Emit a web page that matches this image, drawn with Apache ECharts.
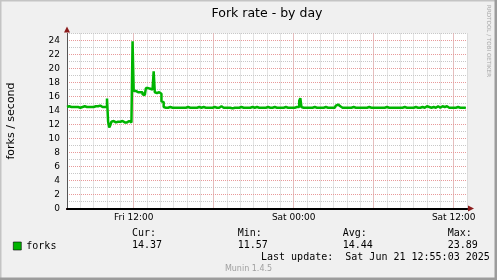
<!DOCTYPE html>
<html><head><meta charset="utf-8">
<script src="https://cdn.jsdelivr.net/npm/echarts@6/dist/echarts.min.js"></script>
<style>html,body{margin:0;padding:0;background:#f0f0f0}#c{width:497px;height:280px}</style>
</head><body><div id="c"></div>
<script>
const chartTitle = 'Fork rate - by day';
const yAxisName = 'forks / second';
const seriesName = 'forks';
const startDay = ['Fri', 'Sat'];
const startHour = 7;       // first sample: Fri 07:00
const sampleMinutes = 5;   // one value every 5 minutes
const slotCount = 361;     // Fri 07:00 .. Sat 13:00 inclusive
const xTickLabels = ['Fri 12:00', 'Sat 00:00', 'Sat 12:00'];
const yTickLabels = [0, 2, 4, 6, 8, 10, 12, 14, 16, 18, 20, 22, 24];
const statLabels = ['Cur:', 'Min:', 'Avg:', 'Max:'];
const statValues = ['14.37', '11.57', '14.44', '23.89'];
const lastUpdate = 'Last update:  Sat Jun 21 12:55:03 2025';
const footer = 'Munin 1.4.5';
const watermark = 'RRDTOOL / TOBI OETIKER';

// forks/second, one row per hour (Fri 07:00 ... Sat 12:55)
const forks = [
  14.5,14.5,14.6,14.5,14.5,14.4,14.5,14.5,14.5,14.4,14.5,14.5,
  14.4,14.5,14.5,14.5,14.6,14.5,14.5,14.4,14.5,14.5,14.5,14.6,
  14.5,14.5,14.6,14.5,14.6,14.7,14.7,14.6,14.5,14.5,14.5,14.4,
  14.5,15.7,12.4,11.57,11.9,12.4,12.5,12.4,12.3,12.5,12.4,12.3,
  12.4,12.3,12.5,12.4,12.3,12.4,12.3,12.4,12.5,12.4,12.3,12.5,
  23.89,16.8,16.8,16.7,16.6,16.7,16.6,16.5,16.6,16.3,16.2,16.3,
  17.2,17.2,17.3,17.1,17.2,17.0,17.0,19.6,16.6,16.5,16.7,16.6,
  16.6,16.4,15.3,15.2,14.5,14.4,14.5,14.4,14.4,14.5,14.4,14.4,
  14.4,14.4,14.5,14.4,14.4,14.4,14.5,14.4,14.4,14.4,14.5,14.4,
  14.4,14.5,14.4,14.4,14.4,14.4,14.5,14.4,14.4,14.4,14.4,14.5,
  14.4,14.4,14.4,14.5,14.4,14.4,14.4,14.4,14.5,14.4,14.4,14.4,
  14.4,14.5,14.4,14.4,14.4,14.4,14.5,14.6,14.6,14.4,14.4,14.4,
  14.4,14.4,14.4,14.4,14.3,14.3,14.4,14.4,14.5,14.4,14.4,14.4,
  14.4,14.5,14.4,14.4,14.4,14.4,14.5,14.4,14.4,14.4,14.4,14.5,
  14.4,14.4,14.4,14.5,14.4,14.4,14.4,14.4,14.5,14.4,14.4,14.4,
  14.4,14.5,14.4,14.4,14.4,14.4,14.4,14.5,14.4,14.4,14.4,14.4,
  14.5,14.4,14.4,14.4,14.4,14.5,14.4,14.4,14.4,14.4,14.5,14.4,
  14.4,14.4,14.4,14.5,14.4,14.5,15.4,15.76,14.5,14.4,14.4,14.4,
  14.4,14.4,14.5,14.4,14.4,14.4,14.4,14.5,14.4,14.4,14.4,14.4,
  14.5,14.4,14.4,14.4,14.4,14.5,14.4,14.4,14.4,14.4,14.5,14.4,
  14.4,14.4,14.5,14.7,14.85,14.8,14.6,14.5,14.4,14.4,14.4,14.4,
  14.4,14.5,14.4,14.4,14.4,14.4,14.5,14.4,14.4,14.4,14.4,14.5,
  14.4,14.4,14.4,14.5,14.4,14.4,14.4,14.4,14.5,14.4,14.4,14.4,
  14.4,14.5,14.4,14.4,14.4,14.4,14.4,14.5,14.4,14.4,14.4,14.4,
  14.5,14.4,14.4,14.4,14.4,14.5,14.4,14.4,14.4,14.4,14.4,14.5,
  14.4,14.4,14.4,14.4,14.5,14.4,14.4,14.4,14.4,14.5,14.4,14.4,
  14.4,14.4,14.5,14.4,14.4,14.4,14.4,14.4,14.5,14.4,14.4,14.4,
  14.6,14.6,14.5,14.4,14.4,14.4,14.5,14.4,14.4,14.6,14.6,14.5,
  14.4,14.4,14.6,14.6,14.5,14.6,14.6,14.5,14.4,14.4,14.4,14.5,
  14.4,14.4,14.4,14.4,14.5,14.4,14.4,14.4,14.4,14.5,14.4,14.37
];

const GREEN = '#00b400';
const MINOR = '#c8c8c8';
const MAJOR = '#e89a9a';
const ARROW = '#8b1c1c';
const SANS = 'DejaVu Sans';
const MONO = 'DejaVu Sans Mono';

// time-slot categories ("Fri 07:00", "Fri 07:05", ...)
const pad = n => (n < 10 ? '0' : '') + n;
const slotInfo = [];
for (let i = 0; i < slotCount; i++) {
  const mins = startHour * 60 + i * sampleMinutes;
  const day = startDay[Math.floor(mins / 1440)];
  const hh = Math.floor(mins / 60) % 24, mm = mins % 60;
  slotInfo.push({label: day + ' ' + pad(hh) + ':' + pad(mm), hh: hh, mm: mm});
}
const categories = slotInfo.map(s => s.label);
const isHour = i => slotInfo[i].mm === 0;
const isSixHour = i => slotInfo[i].mm === 0 && slotInfo[i].hh % 6 === 0;

const chart = echarts.init(document.getElementById('c'), null, {renderer: 'canvas'});
const gridRect = {left: 67, top: 33.5, width: 400, height: 175};
const noLine = {show: false};

const statGraphics = [];
const statX = [132, 237.7, 342.7, 447.7];
statLabels.forEach((s, i) => {
  statGraphics.push({type: 'text', x: statX[i], y: 233.5, style: {text: s, font: '10px ' + MONO, fill: '#000', textVerticalAlign: 'middle'}});
  statGraphics.push({type: 'text', x: statX[i], y: 245.7, style: {text: statValues[i], font: '10px ' + MONO, fill: '#000', textVerticalAlign: 'middle'}});
});

const catAxis = extra => Object.assign({
  type: 'category', data: categories, boundaryGap: false, position: 'bottom',
  axisLine: noLine, axisTick: noLine, axisLabel: noLine, splitLine: noLine
}, extra);

chart.setOption({
  backgroundColor: '#f0f0f0',
  animation: false,
  grid: Object.assign({outerBoundsMode: 'none', containLabel: false, show: true, backgroundColor: '#ffffff', borderWidth: 0}, gridRect),
  legend: {
    data: [seriesName], left: 13, top: 241, itemWidth: 8, itemHeight: 8, icon: 'rect', padding: 0,
    textStyle: {fontFamily: MONO, fontSize: 10, color: '#000'},
    itemStyle: {borderColor: '#000', borderWidth: 0.6}
  },
  xAxis: [
    catAxis({z: 1, splitLine: {show: true, interval: i => isHour(i) && i > 0, lineStyle: {type: 'dotted', width: 1, color: MINOR}}}),
    catAxis({
      z: 3,
      axisLine: {show: true, onZero: false, lineStyle: {color: '#000', width: 2}},
      axisLabel: {show: true, interval: (i, v) => xTickLabels.indexOf(v) >= 0, fontFamily: SANS, fontSize: 9, color: '#000', margin: 5},
      splitLine: {show: true, interval: i => isSixHour(i), lineStyle: {type: 'dotted', width: 1, color: MAJOR}}
    }),
    catAxis({
      z: 2,
      axisLine: {show: true, onZero: false, symbol: ['none', 'triangle'], symbolSize: [6, 6], symbolOffset: [0, 4], lineStyle: {color: ARROW, width: 2}}
    })
  ],
  yAxis: [{
    type: 'value', min: 0, max: 25, interval: 1, position: 'left', z: 1,
    axisLine: noLine, axisTick: noLine, axisLabel: noLine,
    splitLine: {show: true, showMinLine: false, showMaxLine: true, lineStyle: {type: 'dotted', width: 1, color: MINOR}}
  }, {
    type: 'value', min: 0, max: 25, interval: 2, position: 'left', z: 3,
    name: yAxisName, nameLocation: 'middle', nameRotate: 90, nameGap: 50,
    nameTextStyle: {fontFamily: SANS, fontSize: 11, color: '#000'},
    axisLine: {show: true, onZero: false, lineStyle: {color: '#555', width: 1}},
    axisTick: noLine,
    axisLabel: {
      fontFamily: SANS, fontSize: 9, color: '#000', margin: 7,
      formatter: v => yTickLabels.indexOf(v) >= 0 ? String(v) : ''
    },
    splitLine: {show: true, showMinLine: false, showMaxLine: false, lineStyle: {type: 'dotted', width: 1, color: MAJOR}}
  }, {
    type: 'value', min: 0, max: 25, position: 'left', offset: 0, z: 2,
    axisLine: {show: true, onZero: false, symbol: ['none', 'triangle'], symbolSize: [6, 6], symbolOffset: [0, 4], lineStyle: {color: ARROW, width: 1}},
    axisTick: noLine, axisLabel: noLine, splitLine: noLine
  }],
  series: [{
    name: seriesName, type: 'line', data: forks, step: 'start', xAxisIndex: 0, yAxisIndex: 0,
    showSymbol: false, symbol: 'none', color: GREEN,
    lineStyle: {color: GREEN, width: 2.5}, z: 4, silent: true
  }],
  graphic: [
    {type: 'rect', shape: {x: 0, y: 0, width: 497, height: 1.5}, style: {fill: '#c4c4c4'}, silent: true},
    {type: 'rect', shape: {x: 0, y: 0, width: 1.5, height: 280}, style: {fill: '#c4c4c4'}, silent: true},
    {type: 'rect', shape: {x: 494.5, y: 0, width: 2.5, height: 280}, style: {fill: '#9c9c9c'}, silent: true},
    {type: 'rect', shape: {x: 0, y: 277.5, width: 497, height: 2.5}, style: {fill: '#9c9c9c'}, silent: true},
    {type: 'text', x: 267, y: 13.8, style: {text: chartTitle, font: '12.5px ' + SANS, fill: '#000', textAlign: 'center', textVerticalAlign: 'middle'}},
    {type: 'text', x: 488.5, y: 5, rotation: -Math.PI / 2, style: {text: watermark, font: '5.6px ' + SANS, fill: '#a8a8a8', textAlign: 'left', textVerticalAlign: 'middle'}},
    {type: 'text', x: 261, y: 257.8, style: {text: lastUpdate, font: '10px ' + MONO, fill: '#000', textVerticalAlign: 'middle'}},
    {type: 'text', x: 248.5, y: 268.8, style: {text: footer, font: '8px ' + SANS, fill: '#a0a0a0', textAlign: 'center', textVerticalAlign: 'middle'}}
  ].concat(statGraphics)
});
</script>
</body></html>
